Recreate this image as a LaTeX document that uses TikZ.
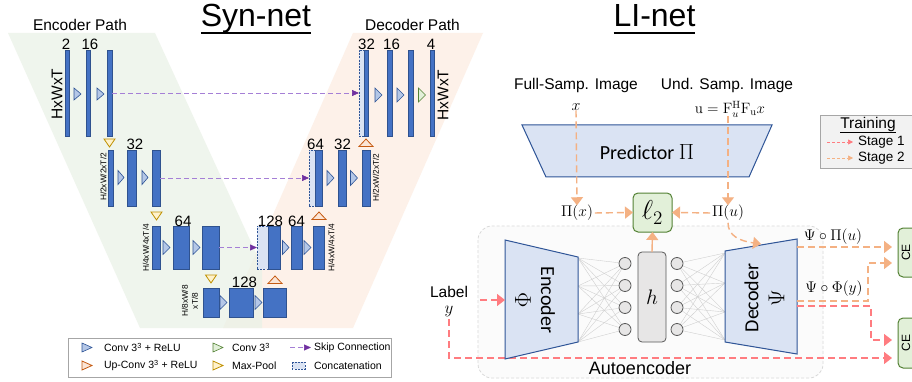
\RequirePackage{fix-cm}
\documentclass[tikz,border=0pt]{standalone}
\usepackage{amsmath}
\usepackage{graphicx}
\usepackage[no-math]{fontspec}
\setmainfont{Liberation Sans}
\newfontfamily\carl{Carlito}
\usetikzlibrary{arrows.meta}
\definecolor{blkF}{HTML}{4472C4}
\definecolor{blkB}{HTML}{2F528F}
\definecolor{catF}{HTML}{DAE3F3}
\definecolor{convF}{HTML}{B4C7E7}
\definecolor{convB}{HTML}{2F5597}
\definecolor{gcF}{HTML}{E2F0D9}
\definecolor{gcB}{HTML}{548235}
\definecolor{upF}{HTML}{FBE5D6}
\definecolor{upB}{HTML}{C55A11}
\definecolor{mpF}{HTML}{FFF2CC}
\definecolor{mpB}{HTML}{BF9000}
\definecolor{skipC}{HTML}{A57FD6}
\definecolor{skipH}{HTML}{7030A0}
\definecolor{bgG}{HTML}{EAF2E7}
\definecolor{bgO}{HTML}{FDF1E9}
\definecolor{legB}{HTML}{A6A6A6}
\definecolor{legF}{HTML}{F2F2F2}
\definecolor{aeF}{HTML}{FBFBFB}
\definecolor{aeB}{HTML}{D9D9D9}
\definecolor{hF}{HTML}{E7E6E6}
\definecolor{hB}{HTML}{595959}
\definecolor{meshC}{HTML}{D0D0D0}
\definecolor{stOne}{HTML}{FF7C80}
\definecolor{stTwo}{HTML}{F4B183}
\newcommand\fsz[1]{\fontsize{#1}{#1}\selectfont}
\newcommand\rtriang[5]{\draw[#1] (#2,#3-#5/2) -- (#2+#4,#3) -- (#2,#3+#5/2) -- cycle;}
\newcommand\dtriang[3]{\draw[#1] (#2-5.5,#3) -- (#2+5.5,#3) -- (#2,#3+8) -- cycle;}
\newcommand\utriang[3]{\draw[#1] (#2-7,#3+7.5) -- (#2+7,#3+7.5) -- (#2,#3) -- cycle;}
\tikzset{
 every node/.style={inner sep=0pt, outer sep=0pt},
 blk/.style={draw=blkB, fill=blkF, line width=0.5pt},
 catbox/.style={draw=convB, fill=catF, dash pattern=on 2pt off 1.2pt, line width=0.7pt},
 convt/.style={draw=convB, fill=convF, line width=0.6pt},
 gconvt/.style={draw=gcB, fill=gcF, line width=0.6pt},
 upt/.style={draw=upB, fill=upF, line width=0.8pt},
 mpt/.style={draw=mpB, fill=mpF, line width=0.8pt},
 skip/.style={draw=skipC, line width=0.7pt, dash pattern=on 5pt off 3pt, -{Triangle[length=7pt,width=6pt,color=skipH]}},
 num/.style={font=\fsz{15}, anchor=south, inner sep=0.5pt},
 dimlab/.style={font=\fsz{8.3}, rotate=90},
 legtxt/.style={font=\fsz{10.5}, anchor=west},
 txt/.style={font=\fsz{15.5}},
 stO/.style={draw=stTwo, line width=1.4pt, dash pattern=on 7pt off 4pt, -{Triangle[length=8pt,width=12pt]}},
 stR/.style={draw=stOne, line width=1.4pt, dash pattern=on 7pt off 4pt, -{Triangle[length=8pt,width=12pt]}},
 trap/.style={draw=convB, fill=catF, line width=1pt, line join=miter},
 gbox/.style={draw=gcB, fill=gcF, line width=1pt, rounded corners=5pt},
 circ/.style={circle, draw=hB, fill=hF, line width=0.8pt, minimum size=12pt},
 mesh/.style={draw=meshC, line width=0.4pt}
}
\begin{document}
\begin{tikzpicture}[x=1pt,y=-1pt]
\clip (0,0) rectangle (912,382);
\fill[white] (0,0) rectangle (912,382);
% ---------------- Syn-net backgrounds
\fill[bgO] (353,33) -- (483,33) -- (353,328) -- (223,328) -- cycle;
\fill[bgG, fill opacity=0.75] (8,33) -- (155,33) -- (262,266) -- (262,328) -- (140,328) -- cycle;
% titles
\coordinate (ulA) at (0,33);
\node[font=\fsz{32}, anchor=base] (syn) at (256,27) {Syn-net};
\draw[line width=1.4pt] (syn.west |- ulA) -- (syn.east |- ulA);
\node[font=\fsz{32}, anchor=base] (li) at (654.5,27) {LI-net};
\draw[line width=1.4pt] (li.west |- ulA) -- (li.east |- ulA);
\node[txt, anchor=base] (encp) at (80,31) {Encoder Path};
\node[txt, anchor=base] (decp) at (412.5,31) {Decoder Path};
% ---------------- blocks
\node[blk, minimum width=4.5pt, minimum height=86pt] (e1a) at (67,93) {};
\node[blk, minimum width=4.5pt, minimum height=86pt] (e1b) at (88,93) {};
\node[blk, minimum width=5pt, minimum height=86pt] (e1c) at (109.5,93) {};
\node[blk, minimum width=5.5pt, minimum height=56pt] (e2a) at (110.5,178) {};
\node[blk, minimum width=9pt, minimum height=56pt] (e2b) at (131.5,178) {};
\node[blk, minimum width=8pt, minimum height=56pt] (e2c) at (156,178) {};
\node[blk, minimum width=8pt, minimum height=43pt] (e3a) at (156,247.5) {};
\node[blk, minimum width=16pt, minimum height=43pt] (e3b) at (181,247.5) {};
\node[blk, minimum width=17pt, minimum height=43pt] (e3c) at (210.5,247.5) {};
\node[blk, minimum width=16pt, minimum height=29pt] (b4a) at (211,302.5) {};
\node[blk, minimum width=24pt, minimum height=29pt] (b4b) at (241,302.5) {};
\node[blk, minimum width=23pt, minimum height=29pt] (b4c) at (274.5,302.5) {};
\node[catbox, minimum width=11pt, minimum height=43pt] (d3cat) at (262.5,247.5) {};
\node[blk, minimum width=12pt, minimum height=43pt] (d3a) at (274,247.5) {};
\node[blk, minimum width=11pt, minimum height=43pt] (d3b) at (296.5,247.5) {};
\node[blk, minimum width=11pt, minimum height=43pt] (d3c) at (318.5,247.5) {};
\node[catbox, minimum width=6pt, minimum height=56pt] (d2cat) at (312,178) {};
\node[blk, minimum width=7pt, minimum height=56pt] (d2a) at (318.5,178) {};
\node[blk, minimum width=8pt, minimum height=56pt] (d2b) at (342,178) {};
\node[blk, minimum width=8pt, minimum height=56pt] (d2c) at (366,178) {};
\node[catbox, minimum width=5pt, minimum height=86pt] (d1cat) at (361.5,93) {};
\node[blk, minimum width=4.5pt, minimum height=86pt] (d1a) at (366,93) {};
\node[blk, minimum width=5pt, minimum height=86pt] (d1b) at (389.5,93) {};
\node[blk, minimum width=5pt, minimum height=86pt] (d1c) at (410.5,93) {};
\node[blk, minimum width=4.5pt, minimum height=86pt] (d1d) at (432,93) {};
% conv triangles
\rtriang{convt}{74}{94}{7}{12}
\rtriang{convt}{97}{94}{7}{12}
\rtriang{convt}{118}{177.5}{6}{14}
\rtriang{convt}{142}{177.5}{6}{14}
\rtriang{convt}{163}{247.5}{7}{14}
\rtriang{convt}{193}{247.5}{7}{14}
\rtriang{convt}{220}{302.5}{7}{14}
\rtriang{convt}{255}{302.5}{7}{14}
\rtriang{convt}{282.5}{247.5}{6.5}{14}
\rtriang{convt}{304}{247.5}{7}{14}
\rtriang{convt}{327}{178}{7}{15}
\rtriang{convt}{350.5}{178}{7}{15}
\rtriang{convt}{375}{95}{7}{14}
\rtriang{convt}{397}{95}{7}{14}
\rtriang{gconvt}{418.5}{95}{7}{14}
% max-pool and up-conv
\dtriang{mpt}{109.5}{139}
\dtriang{mpt}{156.5}{212}
\dtriang{mpt}{211}{275}
\utriang{upt}{275}{276}
\utriang{upt}{319}{212}
\utriang{upt}{366}{139}
% skip connections
\draw[skip] (e1c.east) -- (d1cat.west);
\draw[skip] (e2c.east) -- (d2cat.west);
\draw[skip] (e3c.east) -- (d3cat.west);
% numbers
\node[num] (n2) at (66,50) {2};
\node[num] (n16a) at (90,50) {16};
\node[num] (n32a) at (135,150) {32};
\node[num] (n64a) at (183,227) {64};
\node[num] (n128a) at (244.5,288) {128};
\node[num] (n128b) at (270.5,227) {128};
\node[num] (n64b) at (296.5,227) {64};
\node[num] (n64c) at (315.5,150) {64};
\node[num] (n32b) at (342.5,150) {32};
\node[num] (n32c) at (366.5,50) {32};
\node[num] (n16b) at (391.5,50) {16};
\node[num] (n4) at (431,50) {4};
% dimension labels
\node[txt, rotate=90] (hw1) at (57,94) {HxWxT};
\node[dimlab] (hw2) at (103.5,177) {H/2xW/2xT/2};
\node[dimlab] (hw3) at (146,248) {H/4xW/4xT/4};
\node[rotate=90, align=center, font=\fontsize{8.3}{10}\selectfont] (hw4) at (190,301) {H/8xW/8\\xT/8};
\node[dimlab] (hw5) at (331.5,247.5) {H/4xW/4xT/4};
\node[dimlab] (hw6) at (376,177.5) {H/2xW/2xT/2};
\node[txt, rotate=90] (hw7) at (443,95) {HxWxT};
% legend
\draw[legB, fill=white, line width=0.8pt] (68,338) rectangle (391,377);
\rtriang{convt}{82}{347.5}{10}{9}
\node[legtxt] (lg1) at (104,347.5) {Conv 3\textsuperscript{3} + ReLU};
\rtriang{gconvt}{213}{347.5}{10}{9}
\node[legtxt] (lg2) at (232,347.5) {Conv 3\textsuperscript{3}};
\coordinate (lgs1) at (290,347.5);
\coordinate (lgs2) at (311,347.5);
\draw[skip] (lgs1) -- (lgs2);
\node[legtxt] (lg3) at (314,347.5) {Skip Connection};
\rtriang{upt}{82}{365.5}{10}{9}
\node[legtxt] (lg4) at (104,365.5) {Up-Conv 3\textsuperscript{3} + ReLU};
\rtriang{mpt}{213}{365.5}{10}{9}
\node[legtxt] (lg5) at (232,365.5) {Max-Pool};
\draw[catbox] (292,362) rectangle (305,369);
\node[legtxt] (lg6) at (314,365.5) {Concatenation};
% ---------------- LI-net
\draw[aeB, fill=aeF, line width=0.8pt, dash pattern=on 3pt off 2pt, rounded corners=14pt] (478,226) rectangle (823,378);
\node[font=\fsz{18}] (aelab) at (640,368) {Autoencoder};
\draw[trap] (522,125) -- (772,125) -- (749,177) -- (546,177) -- cycle;
\node[font=\carl\fsz{20}] (pred) at (647,152) {Predictor {\fsz{22}$\Pi$}};
\node[txt] (fs) at (576,85) {Full-Samp. Image};
\node[font=\fsz{16}] (xl) at (576,107) {$x$};
\node[txt] (us) at (727,85) {Und. Samp. Image};
\node[font=\fsz{15}] (ul) at (730,109) {$\mathrm{u}=\mathrm{F}_u^{\mathrm{H}}\mathrm{F}_{\mathrm{u}}x$};
\coordinate (uout) at (728,116);
\node[txt] (pix) at (577,213) {$\Pi(x)$};
\node[txt] (piu) at (728,213) {$\Pi(u)$};
\node[gbox, minimum width=39pt, minimum height=39pt, font=\fsz{21}] (l2) at (652.5,212.5) {\scalebox{1.3}{$\ell_2$}};
% mesh
\foreach \ya in {258,286,314,342}{\foreach \yb in {263.5,285.5,307.5,329.5}{\draw[mesh] (578,\ya) -- (625,\yb);}}
\foreach \ya in {253,283,312,340}{\foreach \yb in {263.5,285.5,307.5,329.5}{\draw[mesh] (677,\yb) -- (725,\ya);}}
\foreach \i/\yy in {1/263.5,2/285.5,3/307.5,4/329.5}{\node[circ] (cl\i) at (625,\yy) {}; \node[circ] (cr\i) at (677,\yy) {};}
\node[draw=hB, fill=hF, line width=0.8pt, rounded corners=4pt, minimum width=28pt, minimum height=90pt, font=\fsz{21}] (h) at (652,297) {$h$};
% label y
\node[txt] (lbl) at (449,292) {Label};
\node[font=\fsz{17}] (ylab) at (449,311) {$y$};
\coordinate (lblout) at (480,300);
\coordinate (encin) at (505,300);
\coordinate (c2b) at (892,358);
\draw[stR, shorten <=3pt] (ylab.south) |- (c2b);
% encoder / decoder
\draw[trap] (505,240) -- (578,257) -- (578,342) -- (505,359) -- cycle;
\node[font=\carl\fontsize{20}{26}\selectfont, rotate=-90, align=center] (enc) at (535,300) {Encoder\\\scalebox{1.15}{$\Phi$}};
\draw[trap] (725,251) -- (797,239) -- (797,354) -- (725,342) -- cycle;
\node[font=\carl\fontsize{20}{26}\selectfont, rotate=90, align=center] (dec) at (764.5,298) {Decoder\\\scalebox{1.15}{$\Psi$}};
\draw[stR] (lblout) -- (encin);
% predictor arrows
\draw[stO] (xl.south) -- (pix.north);
\draw[stO] (uout) -- (piu.north);
\draw[stO, shorten <=2pt] (pix.east) -- (l2.west);
\draw[stO, shorten <=2pt] (piu.west) -- (l2.east);
\draw[draw=stTwo, line width=1.4pt, -{Triangle[length=8pt,width=12pt]}] (h.north) -- (l2.south);
\coordinate (decin) at (761,244);
\draw[stO, shorten <=2pt] (piu.south) .. controls (728,236) and (740,241) .. (decin);
% decoder outputs
\node[txt] (opu) at (833,237) {$\Psi\circ\Pi(u)$};
\node[txt] (opy) at (834,289) {$\Psi\circ\Phi(y)$};
\node[gbox, minimum width=30pt, minimum height=49pt] (ce1) at (913,252.5) {};
\node[font=\fsz{12}, rotate=90] (ce1t) at (906,252.5) {CE};
\node[gbox, minimum width=30pt, minimum height=50pt] (ce2) at (913,343) {};
\node[font=\fsz{12}, rotate=90] (ce2t) at (906,343) {CE};
\coordinate (dO1) at (797,247);
\coordinate (c1a) at (892,247);
\coordinate (dO2) at (797,301);
\coordinate (c1b) at (892,263);
\coordinate (dR) at (797,306);
\coordinate (c2a) at (892,340);
\draw[stO] (dO1) -- (c1a);
\draw[stO] (dO2) -- (868,301) |- (c1b);
\draw[stR] (dR) -- (871,306) |- (c2a);
% training legend
\draw[legB, fill=legF, line width=0.8pt] (820,115) rectangle (918,168);
\node[txt, anchor=base] (tr) at (868,129) {Training};
\coordinate (ulT) at (0,132);
\draw[line width=0.8pt] (tr.west |- ulT) -- (tr.east |- ulT);
\coordinate (s1a) at (827,142);
\coordinate (s1b) at (853,142);
\coordinate (s2a) at (827,158);
\coordinate (s2b) at (853,158);
\draw[stOne, line width=0.7pt, dash pattern=on 3pt off 2pt, -{Triangle[length=5pt,width=5pt]}] (s1a) -- (s1b);
\draw[stTwo, line width=0.7pt, dash pattern=on 3pt off 2pt, -{Triangle[length=5pt,width=5pt]}] (s2a) -- (s2b);
\node[font=\fsz{13.5}, anchor=west] (s1t) at (858,142.5) {Stage 1};
\node[font=\fsz{13.5}, anchor=west] (s2t) at (858,158.5) {Stage 2};
\end{tikzpicture}
\end{document}
